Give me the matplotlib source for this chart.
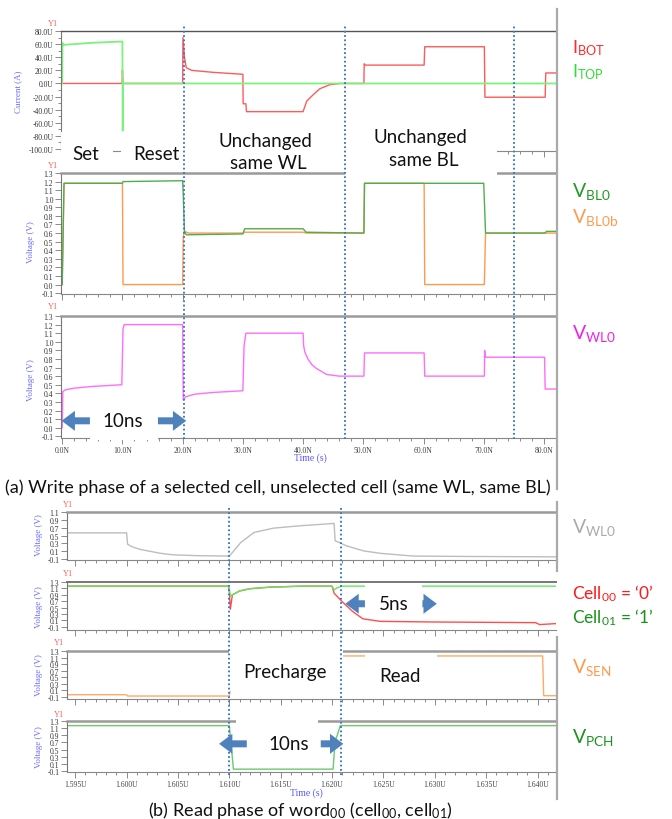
import matplotlib
matplotlib.use("Agg")
import matplotlib.pyplot as plt
from matplotlib.lines import Line2D
from matplotlib.patches import Rectangle, FancyArrowPatch

plt.rcParams['font.family'] = ['Lato', 'DejaVu Sans']
plt.rcParams['mathtext.fontset'] = 'custom'
plt.rcParams['mathtext.rm'] = 'Lato'
plt.rcParams['mathtext.it'] = 'Lato:italic'
plt.rcParams['mathtext.bf'] = 'Lato:bold'

SERIF = ['Liberation Serif', 'DejaVu Serif']

# ---------------- (a) write phase, time in ns ----------------
i_top_t = [0.0, 0.05, 0.15, 0.4, 5.0, 9.95, 10.0, 10.05, 10.1, 82.0]
i_top_v = [0.0, 62.0, 58.0, 59.0, 62.0, 64.0, 64.0, -72.0, 0.0, 0.0]

i_bot_t = [0.0, 9.95, 10.0, 10.1, 20.0, 20.05, 20.3, 20.6, 21.5, 25.0,
           30.0, 30.05, 30.5, 30.6, 40.0, 40.6, 41.7, 42.8, 44.4, 46.1,
           50.1, 50.15, 50.3, 60.1, 60.2, 70.1, 70.2, 80.2, 80.3, 82.0]
i_bot_v = [0.0, 0.0, 20.0, 0.0, 0.0, 70.0, 40.0, 24.0, 20.0, 17.0,
           14.0, -31.0, -31.0, -43.0, -43.0, -27.0, -17.0, -8.0, -2.0, 0.0,
           0.0, 30.0, 28.0, 28.0, 56.0, 56.0, -21.0, -21.0, 16.0, 16.0]

bl_t = [0.0, 0.3, 10.0, 10.1, 20.0, 20.1, 20.3, 20.6, 30.0, 30.3,
        40.0, 40.5, 50.1, 50.2, 70.0, 70.3, 80.2, 80.4, 82.0]
bl_v = [0.0, 1.18, 1.18, 1.2, 1.21, 1.05, 0.62, 0.58, 0.59, 0.65,
        0.65, 0.61, 0.6, 1.18, 1.18, 0.6, 0.6, 0.62, 0.62]

blb_t = [0.0, 0.3, 10.0, 10.1, 20.0, 20.1, 20.3, 21.0, 30.0, 30.3,
         40.0, 40.5, 50.1, 50.2, 60.1, 60.2, 70.1, 70.3, 82.0]
blb_v = [0.0, 1.18, 1.18, 0.0, 0.0, 0.55, 0.62, 0.6, 0.6, 0.61,
         0.61, 0.6, 0.6, 1.18, 1.18, 0.0, 0.0, 0.6, 0.6]

wl_t = [0.0, 0.1, 0.5, 2.0, 5.0, 9.9, 10.1, 10.3, 20.0, 20.1, 20.5, 22.0,
        25.0, 30.0, 30.2, 30.5, 40.0, 40.1, 40.3, 40.8, 41.5, 42.2, 43.9,
        46.0, 50.1, 50.2, 60.1, 60.2, 70.1, 70.15, 70.3, 80.1, 80.2, 82.0]
wl_v = [0.0, 0.42, 0.44, 0.46, 0.48, 0.5, 1.15, 1.2, 1.2, 0.32, 0.36, 0.39,
        0.41, 0.43, 0.95, 1.1, 1.1, 0.95, 0.88, 0.8, 0.73, 0.69, 0.62,
        0.6, 0.6, 0.87, 0.87, 0.6, 0.6, 0.9, 0.82, 0.82, 0.45, 0.45]

a_marks = [20.2, 46.9, 75.0]          # dotted markers
a_arrow = [(4.6, -0.1), (15.9, 20.6)]  # (tail, head) for "10ns"
a_xticks = [0, 10, 20, 30, 40, 50, 60, 70, 80]

# ---------------- (b) read phase, time in ns ----------------
wlr_t = [1594.2, 1600.0, 1600.1, 1600.5, 1601.3, 1603.3, 1604.6, 1607.0, 1610.0,
         1610.4, 1611.1, 1612.4, 1614.3, 1616.9, 1620.2, 1620.3, 1621.4,
         1623.1, 1624.7, 1627.9, 1633.0, 1641.8]
wlr_v = [0.57, 0.57, 0.28, 0.22, 0.15, 0.05, 0.01, -0.01, -0.02,
         0.1, 0.32, 0.58, 0.69, 0.75, 0.81, 0.37, 0.24,
         0.11, 0.05, -0.02, -0.03, -0.04]

cell01_t = [1594.2, 1609.9, 1610.0, 1610.1, 1610.3, 1611.0, 1612.0, 1614.0,
            1617.0, 1620.0, 1620.2, 1620.5, 1621.0, 1641.8]
cell01_v = [1.17, 1.17, 1.1, 0.85, 0.9, 1.02, 1.09, 1.14,
            1.17, 1.17, 1.05, 1.12, 1.17, 1.17]

cell00_t = [1594.2, 1609.9, 1610.0, 1610.1, 1610.3, 1611.0, 1612.0, 1614.0,
            1617.0, 1620.0, 1620.2, 1620.5, 1621.0, 1622.0, 1623.0, 1624.7,
            1630.0, 1639.8, 1640.2, 1641.8]
cell00_v = [1.17, 1.17, 1.0, 0.45, 0.9, 1.02, 1.09, 1.14,
            1.17, 1.17, 0.95, 0.85, 0.68, 0.38, 0.15, 0.07,
            0.05, 0.03, -0.03, 0.0]

sen_t = [1594.2, 1600.0, 1600.1, 1610.0, 1610.1, 1610.3, 1640.5, 1640.6, 1641.8]
sen_v = [-0.03, -0.03, -0.07, -0.07, 0.15, 1.15, 1.15, -0.06, -0.06]

pch_t = [1594.2, 1610.0, 1610.4, 1620.1, 1620.3, 1620.5, 1620.8, 1641.8]
pch_v = [1.17, 1.17, -0.05, -0.05, 0.75, 0.89, 1.17, 1.17]

b_marks = [1610.0, 1620.9]
b_arrow_10 = [(1611.7, 1609.0), (1618.9, 1621.1)]
b_arrow_5 = [(1623.2, 1621.3), (1628.8, 1630.2)]
b_xticks = [1595, 1600, 1605, 1610, 1615, 1620, 1625, 1630, 1635, 1640]

W, H = 672, 820
fig = plt.figure(figsize=(W / 100, H / 100), dpi=100)


def px_axes(l, t, r, b, **kw):
    return fig.add_axes([l / W, 1 - b / H, (r - l) / W, (b - t) / H], **kw)


def ftext(x, y, s, **kw):
    kw.setdefault('va', 'center')
    kw.setdefault('ha', 'center')
    return fig.text(x / W, 1 - y / H, s, **kw)


def mask(x0, y0, x1, y1):
    fig.add_artist(Rectangle((x0 / W, 1 - y1 / H), (x1 - x0) / W, (y1 - y0) / H,
                             transform=fig.transFigure, fc='white', ec='none', zorder=2))


def vline_px(x, y0, y1):
    fig.add_artist(Line2D([x / W, x / W], [1 - y0 / H, 1 - y1 / H], transform=fig.transFigure,
                          color='#aaaaaa', lw=1.6, zorder=1))


def style(ax, xlim, xmaj, xmin, ylim, yt, ylab, xlab=None, top='#9a9a9a', top_lw=1.8):
    ax.set_xlim(xlim)
    ax.set_ylim(ylim)
    ax.set_xticks(xmaj)
    ax.set_xticks(xmin, minor=True)
    if xlab:
        ax.set_xticklabels(xlab, fontfamily=SERIF, fontsize=5.5, color='#444444')
    else:
        ax.set_xticklabels([])
    ax.set_yticks(yt)
    ax.set_yticklabels(ylab, fontfamily=SERIF, fontsize=5.5, color='#333333')
    ax.spines['right'].set_visible(False)
    ax.spines['top'].set_color(top)
    ax.spines['top'].set_linewidth(top_lw)
    ax.spines['left'].set_color('#777777')
    ax.spines['left'].set_linewidth(0.8)
    ax.spines['bottom'].set_color('#888888')
    ax.spines['bottom'].set_linewidth(0.8)
    ax.tick_params(which='both', direction='out', color='#777777', width=0.6, pad=1.5)
    ax.tick_params(which='major', length=4)
    ax.tick_params(which='minor', length=2)


def arrow(ax, tail, head, y):
    fig.add_artist(FancyArrowPatch((tail, y), (head, y), transform=ax.transData,
                                   arrowstyle='simple,head_length=0.8,head_width=1.2,tail_width=0.42',
                                   mutation_scale=12, shrinkA=0, shrinkB=0,
                                   color='#4f81bd', lw=0, zorder=5))


a_xlim = (-0.2, 82.0)
a_minor = [x * 2 for x in range(42)]
a_lab = ['%.1fN' % x for x in a_xticks]

# ---- panel a1: currents ----
a1 = px_axes(61, 32, 556, 152)
a1.plot(i_bot_t, i_bot_v, color='#ff5a5a', lw=1.0)
a1.plot(i_top_t, i_top_v, color='#7df07d', lw=1.3)
cur_ticks = [80, 60, 40, 20, 0, -20, -40, -60, -80, -100]
style(a1, a_xlim, a_xticks, a_minor, (-103, 80), cur_ticks,
      ['%.1fU' % v for v in cur_ticks], top='#555555', top_lw=1.0)
a1.set_yticks(range(-100, 81, 10), minor=True)

# ---- panel a2: bit-line voltages ----
v13 = [1.3 - 0.1 * k for k in range(15)]
v13_lab = ['%.1f' % (v + 0.0) for v in v13]
v13_lab = [s.replace('-0.0', '0.0') for s in v13_lab]
a2 = px_axes(61, 174, 556, 295)
a2.plot(blb_t, blb_v, color='#ff9a4d', lw=1.0)
a2.plot(bl_t, bl_v, color='#4fae4f', lw=1.0)
style(a2, a_xlim, a_xticks, a_minor, (-0.11, 1.3), v13, v13_lab)

# ---- panel a3: word-line voltage ----
a3 = px_axes(61, 317, 556, 439)
a3.plot(wl_t, wl_v, color='#ff6cff', lw=1.0)
style(a3, a_xlim, a_xticks, a_minor, (-0.12, 1.3), v13, v13_lab, xlab=a_lab)

# ---- part (b) panels ----
b_xlim = (1594.2, 1641.8)
b_minor = list(range(1595, 1642))
b_lab = ['%.3fU' % (x / 1000) for x in b_xticks]
v_b1 = [1.1, 0.9, 0.7, 0.5, 0.3, 0.1, -0.1]
v_b = [1.3, 1.1, 0.9, 0.7, 0.5, 0.3, 0.1, -0.1]

b1 = px_axes(67, 513, 556, 561)
b1.plot(wlr_t, wlr_v, color='#bdbdbd', lw=1.0)
style(b1, b_xlim, b_xticks, b_minor, (-0.12, 1.1), v_b1, ['%.1f' % v for v in v_b1])

b2 = px_axes(67, 583, 556, 631)
b2.plot(cell00_t, cell00_v, color='#ff4d4d', lw=1.0)
b2.plot(cell01_t, cell01_v, color='#5fe85f', lw=1.0)
style(b2, b_xlim, b_xticks, b_minor, (-0.2, 1.3), v_b, ['%.1f' % v for v in v_b], top='#777777', top_lw=1.4)

b3 = px_axes(67, 652, 556, 700)
b3.plot(sen_t, sen_v, color='#ffaa66', lw=1.0)
style(b3, b_xlim, b_xticks, b_minor, (-0.16, 1.3), v_b, ['%.1f' % v for v in v_b])

b4 = px_axes(67, 722, 556, 773)
b4.plot(pch_t, pch_v, color='#6acb6a', lw=1.0)
style(b4, b_xlim, b_xticks, b_minor, (-0.13, 1.3), v_b, ['%.1f' % v for v in v_b], xlab=b_lab)

# ---- axis annotations ----
yl = dict(fontfamily=SERIF, fontsize=6.5, color='#6b6bff', rotation=90)
ftext(18, 92, 'Current (A)', **yl)
ftext(31, 242, 'Voltage (V)', **yl)
ftext(31, 380, 'Voltage (V)', **yl)
for yy in (535, 607, 675, 747):
    ftext(39, yy, 'Voltage (V)', **yl)
y1 = dict(fontfamily=SERIF, fontsize=6, color='#ff6060')
for xx, yy in ((53, 24), (53, 166), (53, 307), (68, 505), (68, 574), (59, 643), (59, 715)):
    ftext(xx, yy, 'Y1', **y1)
tl = dict(fontfamily=SERIF, fontsize=7, color='#5858ff')
ftext(310, 458, 'Time (s)', **tl)
ftext(306, 793, 'Time (s)', **tl)

# right frame lines
vline_px(557, 10, 490)
vline_px(557, 503, 572)
vline_px(557, 638, 800)

# ---- white label boxes + labels ----
for r in ((61, 133, 113, 171), (121, 133, 190, 171), (190, 126, 345, 172),
          (345, 120, 497, 181), (90, 405, 158, 441), (365, 586, 422, 616),
          (229, 646, 343, 692), (365, 655, 437, 690), (236, 718, 318, 765)):
    mask(*r)

lab = dict(fontsize=13.5, color='#111111', zorder=3)
ftext(86, 155, 'Set', **lab)
ftext(156, 155, 'Reset', **lab)
ftext(265, 142, 'Unchanged', **lab)
ftext(268, 164, 'same WL', **lab)
ftext(420, 137, 'Unchanged', **lab)
ftext(424, 161, 'same BL', **lab)
ftext(123, 422, '10ns', **lab)
ftext(285, 673, 'Precharge', **lab)
ftext(400, 677, 'Read', **lab)
ftext(289, 745, '10ns', **lab)
ftext(394, 605, '5ns', **lab)

# arrows
for tail, head in a_arrow:
    arrow(a3, tail, head, 0.08)
for tail, head in b_arrow_10:
    arrow(b4, tail, head, 0.66)
for tail, head in b_arrow_5:
    arrow(b2, tail, head, 0.62)

# dotted event markers on top
ova = px_axes(61, 25, 556, 440, zorder=4)
ova.set_xlim(a_xlim)
ova.axis('off')
ova.patch.set_visible(False)
for t in a_marks:
    ova.axvline(t, color='#3d78c0', lw=1.4, ls=(0, (0.9, 1.3)))
ovb = px_axes(67, 507, 556, 776, zorder=4)
ovb.set_xlim(b_xlim)
ovb.axis('off')
ovb.patch.set_visible(False)
for t in b_marks:
    ovb.axvline(t, color='#3d78c0', lw=1.4, ls=(0, (0.9, 1.3)))

# ---- right side legends ----
lg = dict(ha='left', va='center', zorder=3)
ftext(572, 48, r'I$_{\mathrm{BOT}}$', color='#ff2a2a', fontsize=13, **lg)
ftext(572, 72, r'I$_{\mathrm{TOP}}$', color='#33dd33', fontsize=13, **lg)
ftext(572, 192, r'V$_{\mathrm{BL0}}$', color='#229922', fontsize=14, **lg)
ftext(572, 217, r'V$_{\mathrm{BL0b}}$', color='#ff9a4d', fontsize=14, **lg)
ftext(572, 333, r'V$_{\mathrm{WL0}}$', color='#ee22ee', fontsize=14, **lg)
ftext(572, 528, r'V$_{\mathrm{WL0}}$', color='#aaaaaa', fontsize=14, **lg)
ftext(572, 594, r'Cell$_{00}$ = ‘0’', color='#ff1a1a', fontsize=12.5, **lg)
ftext(572, 618, r'Cell$_{01}$ = ‘1’', color='#1a931a', fontsize=12.5, **lg)
ftext(572, 668, r'V$_{\mathrm{SEN}}$', color='#ff9a4d', fontsize=14, **lg)
ftext(572, 738, r'V$_{\mathrm{PCH}}$', color='#1a931a', fontsize=14, **lg)

# captions
ftext(5, 488, '(a) Write phase of a selected cell, unselected cell (same WL, same BL)',
      ha='left', fontsize=13, color='#111111')
ftext(148, 811, r'(b) Read phase of word$_{00}$ (cell$_{00}$, cell$_{01}$)',
      ha='left', fontsize=13, color='#111111')

fig.savefig('out.png', dpi=100)
